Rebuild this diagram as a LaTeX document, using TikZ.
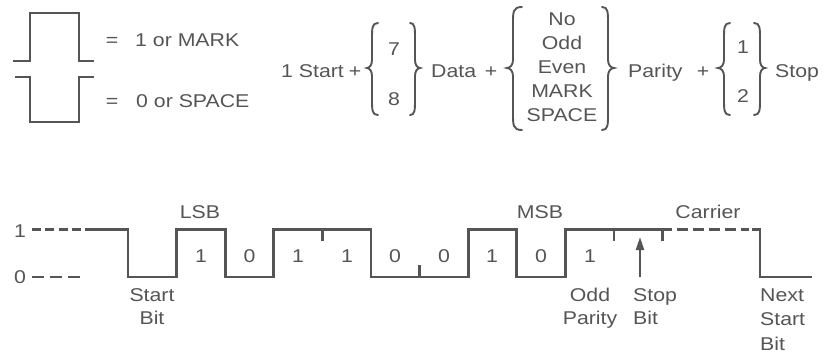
\documentclass[tikz,border=0pt]{standalone}
\usepackage{fontspec}
\setmainfont[FakeStretch=1.15]{Liberation Sans}
\usetikzlibrary{arrows.meta}
\definecolor{ink}{HTML}{555555}
\definecolor{lineink}{HTML}{555555}
\tikzset{
  wave/.style={draw=lineink, line width=2.7pt, line join=miter},
  sym/.style={draw=lineink, line width=2.3pt},
  tickmark/.style={draw=lineink, line width=2.4pt},
  brace/.style={draw=lineink, line width=1.9pt, line cap=round},
  lbl/.style={text=ink, inner sep=0pt, font=\fontsize{18.5}{22}\selectfont},
}
% #1 end x, #2 vertical x, #3 tip x, #4 top y, #5 mid y, #6 bottom y
\newcommand\mybrace[6]{%
  \draw[brace] (#1,#4) .. controls (#2,#4) and (#2,#4+5) .. (#2,#4+16)
    -- (#2,#5-8) .. controls (#2,#5-3) and ({(#2+#3)/2},#5) .. (#3,#5)
    .. controls ({(#2+#3)/2},#5) and (#2,#5+3) .. (#2,#5+8)
    -- (#2,#6-16) .. controls (#2,#6-5) and (#2,#6) .. (#1,#6);}
\begin{document}
\begin{tikzpicture}[x=1pt,y=-1pt]
\useasboundingbox (0,0) rectangle (831,354);
\fill[white] (0,0) rectangle (831,354);

% ---- legend pulses
\draw[sym] (13,61) -- (30,61) -- (30,13) -- (79,13) -- (79,61) -- (94,61);
\draw[sym] (15,77) -- (30,77) -- (30,122) -- (79,122) -- (79,77) -- (94,77);
\node[lbl, anchor=base] (eqA) at (112,46) {=};
\node[lbl, anchor=base west] (markT) at (135,46) {1 or MARK};
\node[lbl, anchor=base] (eqB) at (112,107) {=};
\node[lbl, anchor=base west] (spaceT) at (136,107) {0 or SPACE};

% ---- format formula
\node[lbl, anchor=base west] (startT) at (281,77) {1 Start};
\node[lbl, anchor=base] (plusA) at (355,77) {+};
\mybrace{378}{372}{367}{23}{68}{115}
\node[lbl, anchor=base] (sevenT) at (394,55) {7};
\node[lbl, anchor=base] (eightT) at (394,105) {8};
\mybrace{410}{415}{420}{23}{68}{115}
\node[lbl, anchor=base west] (dataT) at (431,77) {Data};
\node[lbl, anchor=base] (plusB) at (491,77) {+};
\mybrace{522}{513}{507}{7}{68}{130}
\node[lbl, anchor=base] (noT) at (562,25) {No};
\node[lbl, anchor=base] (oddT) at (562,49.5) {Odd};
\node[lbl, anchor=base] (evenT) at (562,73.5) {Even};
\node[lbl, anchor=base] (markP) at (562,97.5) {MARK};
\node[lbl, anchor=base] (spaceP) at (562,121.5) {SPACE};
\mybrace{602}{608}{614}{7}{68}{130}
\node[lbl, anchor=base west] (parityT) at (628,77) {Parity};
\node[lbl, anchor=base] (plusC) at (703,77) {+};
\mybrace{730}{724}{718}{23}{68}{115}
\node[lbl, anchor=base] (oneT) at (743,53) {1};
\node[lbl, anchor=base] (twoT) at (743,102) {2};
\mybrace{754}{760}{765}{23}{68}{115}
\node[lbl, anchor=base west] (stopT) at (775,77) {Stop};

% ---- waveform
\node[lbl, anchor=base] (lvlOne) at (20,237) {1};
\node[lbl, anchor=base] (lvlZero) at (20,283.5) {0};
\draw[wave, dash pattern=on 9pt off 4.3pt] (32,229.5) -- (81,229.5);
\draw[wave, dash pattern=on 12pt off 6pt] (32,277) -- (80,277);
\draw[wave] (85,229.5) -- (128,229.5) -- (128,277) -- (176.6,277) -- (176.6,229.5)
  -- (225.2,229.5) -- (225.2,277) -- (273.8,277) -- (273.8,229.5)
  -- (371,229.5) -- (371,277) -- (468.2,277) -- (468.2,229.5)
  -- (516.8,229.5) -- (516.8,277) -- (565.4,277) -- (565.4,229.5)
  -- (672,229.5);
\draw[wave, dash pattern=on 11pt off 5pt] (677,229.5) -- (749,229.5);
\draw[wave] (752,229.5) -- (760,229.5) -- (760,277) -- (812,277);
% bit boundary ticks
\draw[tickmark] (322.4,229.5) -- (322.4,241);
\draw[tickmark] (419.6,277) -- (419.6,265);
\draw[tickmark] (614,229.5) -- (614,241);
\draw[tickmark] (662.6,229.5) -- (662.6,241);
% stop bit arrow
\coordinate (arrFoot) at (640,277);
\coordinate (arrTip) at (640,237);
\draw[draw=lineink, line width=2.2pt, -{Triangle[length=13pt,width=8pt]}] (arrFoot) -- (arrTip);

\node[lbl, anchor=base] (lsbT) at (200,218) {LSB};
\node[lbl, anchor=base] (msbT) at (540,218) {MSB};
\node[lbl, anchor=base] (carrierT) at (708,218) {Carrier};

\node[lbl, anchor=base] (bA) at (201,262) {1};
\node[lbl, anchor=base] (bB) at (249.5,262) {0};
\node[lbl, anchor=base] (bC) at (298,262) {1};
\node[lbl, anchor=base] (bD) at (347,262) {1};
\node[lbl, anchor=base] (bE) at (395,262) {0};
\node[lbl, anchor=base] (bF) at (444,262) {0};
\node[lbl, anchor=base] (bG) at (492,262) {1};
\node[lbl, anchor=base] (bH) at (541,262) {0};
\node[lbl, anchor=base] (bI) at (590,262) {1};

\node[lbl, anchor=base] (startA) at (152,301) {Start};
\node[lbl, anchor=base] (startB) at (152,324) {Bit};
\node[lbl, anchor=base] (oddA) at (590,301.5) {Odd};
\node[lbl, anchor=base] (oddB) at (590,324) {Parity};
\node[lbl, anchor=base west] (stopA) at (633,301.5) {Stop};
\node[lbl, anchor=base west] (stopB) at (633,324) {Bit};
\node[lbl, anchor=base west] (nextA) at (760,301.5) {Next};
\node[lbl, anchor=base west] (nextB) at (760,325) {Start};
\node[lbl, anchor=base west] (nextC) at (760,350) {Bit};
\end{tikzpicture}
\end{document}
